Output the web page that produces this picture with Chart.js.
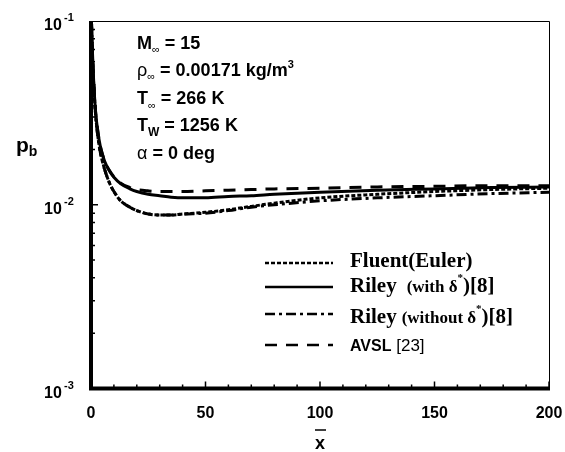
<!DOCTYPE html>
<html>
<head>
<meta charset="utf-8">
<script src="https://cdn.jsdelivr.net/npm/chart.js@4.4.0/dist/chart.umd.min.js"></script>
<style>
    body { margin: 0; background: #fff; }
    #wrap { width: 565px; height: 452px; }
</style>
</head>
<body>
<div id="wrap"><canvas id="pbCanvas" width="565" height="452"></canvas></div>
<script>
// base pressure along the plate, x-bar from 0 to 200
var xs = [0.2, 0.5, 1, 2, 3, 4, 5, 6, 8, 10, 13, 17, 20, 25, 30, 35, 40, 50, 60, 70, 80, 100, 125, 150, 175, 200];

var pFluent = [0.1, 0.072, 0.05, 0.031, 0.0235, 0.0195, 0.0172, 0.0155, 0.0132, 0.0118, 0.0105, 0.0097, 0.0093, 0.0089, 0.0088, 0.0088, 0.0089, 0.0091, 0.0094, 0.0098, 0.0102, 0.0109, 0.0114, 0.0118, 0.0121, 0.0123];
var pRileyWith = [0.1, 0.075, 0.052, 0.032, 0.025, 0.021, 0.0188, 0.0172, 0.0153, 0.0141, 0.0130, 0.0122, 0.0118, 0.0114, 0.0112, 0.0110, 0.0109, 0.0109, 0.0111, 0.0112, 0.0114, 0.0117, 0.0120, 0.0122, 0.0124, 0.0125];
var pRileyWithout = [0.1, 0.072, 0.05, 0.031, 0.0235, 0.0195, 0.0172, 0.0155, 0.0132, 0.0118, 0.0105, 0.0097, 0.0093, 0.0089, 0.0088, 0.0088, 0.0089, 0.0090, 0.0093, 0.0097, 0.0100, 0.0105, 0.0109, 0.0112, 0.0115, 0.0117];
var pAvsl = [0.1, 0.075, 0.052, 0.032, 0.025, 0.021, 0.0188, 0.0172, 0.0154, 0.0142, 0.0131, 0.0124, 0.0121, 0.0119, 0.0118, 0.0118, 0.0118, 0.0119, 0.0120, 0.0121, 0.0122, 0.0123, 0.0125, 0.0126, 0.0127, 0.0127];

var xTicks = [0, 50, 100, 150, 200];
var yTicks = [0.1, 0.01, 0.001];
var yTickExp = ["-1", "-2", "-3"];

var dashFluent = [4, 2];
var dashSolid = [];
var dashDotDash = [10, 4, 3, 4];
var dashAvsl = [12, 9];

function pts(ys) {
    var out = [];
    for (var i = 0; i < xs.length; i++) {
        out.push({ x: xs[i], y: ys[i] });
    }
    return out;
}

function series(label, ys, dash) {
    return {
        label: label,
        data: pts(ys),
        borderColor: "#000",
        borderWidth: 3,
        borderDash: dash,
        pointRadius: 0,
        fill: false,
        cubicInterpolationMode: "monotone"
    };
}

// draw a row of text pieces (sub/superscripts) left to right
function runs(ctx, x, y, parts) {
    for (var i = 0; i < parts.length; i++) {
        var p = parts[i];
        ctx.font = p.f;
        if (p.gap) x += p.gap;
        ctx.fillText(p.t, x, y + (p.dy || 0));
        x += ctx.measureText(p.t).width;
    }
}

var SANS = "'Liberation Sans', Arial, sans-serif";
var SERIF = "'Liberation Serif', 'Times New Roman', serif";

var framePlugin = {
    id: "frame",
    beforeDraw: function (chart) {
        var ctx = chart.ctx;
        ctx.save();
        ctx.fillStyle = "#fff";
        ctx.fillRect(0, 0, chart.width, chart.height);
        ctx.restore();
    },
    afterDatasetsDraw: function (chart) {
        var ctx = chart.ctx;
        var a = chart.chartArea;
        var xs_ = chart.scales.x;
        var ys_ = chart.scales.y;
        ctx.save();
        ctx.strokeStyle = "#000";
        ctx.fillStyle = "#000";

        // thin top and right border
        ctx.lineWidth = 1;
        ctx.beginPath();
        ctx.moveTo(a.left, a.top + 0.5);
        ctx.lineTo(a.right + 0.5, a.top + 0.5);
        ctx.lineTo(a.right + 0.5, a.bottom);
        ctx.stroke();

        // heavy left and bottom axes
        ctx.lineWidth = 4;
        ctx.beginPath();
        ctx.moveTo(a.left, a.top);
        ctx.lineTo(a.left, a.bottom);
        ctx.lineTo(a.right + 1, a.bottom);
        ctx.stroke();

        // inward ticks
        ctx.lineWidth = 1.5;
        ctx.beginPath();
        for (var v = 0; v <= 200; v += 10) {
            var px = xs_.getPixelForValue(v);
            var len = (v % 50 === 0) ? 7 : 4;
            ctx.moveTo(px, a.bottom);
            ctx.lineTo(px, a.bottom - len);
        }
        for (var e = -3; e <= -2; e++) {
            for (var m = 1; m <= 9; m++) {
                if (m === 1 && e === -3) continue;
                var py = ys_.getPixelForValue(m * Math.pow(10, e));
                var l2 = (m === 1) ? 7 : 4;
                ctx.moveTo(a.left, py);
                ctx.lineTo(a.left + l2, py);
            }
        }
        ctx.stroke();

        // x tick labels
        ctx.font = "bold 16px " + SANS;
        ctx.textAlign = "center";
        ctx.textBaseline = "middle";
        for (var i = 0; i < xTicks.length; i++) {
            ctx.fillText(String(xTicks[i]), xs_.getPixelForValue(xTicks[i]), a.bottom + 25);
        }

        // y tick labels 10^n
        ctx.textAlign = "left";
        for (var j = 0; j < yTicks.length; j++) {
            var ty = ys_.getPixelForValue(yTicks[j]);
            ctx.font = "bold 16px " + SANS;
            ctx.fillText("10", 44, ty + 5);
            ctx.font = "bold 11px " + SANS;
            ctx.fillText(yTickExp[j], 64, ty - 3);
        }

        // axis titles
        ctx.textBaseline = "alphabetic";
        runs(ctx, 16, 152, [
            { t: "p", f: "bold 21px " + SANS },
            { t: "b", f: "bold 14px " + SANS, dy: 4 }
        ]);
        ctx.font = "bold 18px " + SANS;
        ctx.fillText("x", 315, 449);
        ctx.lineWidth = 1.5;
        ctx.beginPath();
        ctx.moveTo(315, 430);
        ctx.lineTo(326, 430);
        ctx.stroke();

        // flow conditions
        var bx = 137;
        var B = "bold 18px " + SANS;
        var SUB = "11px " + SANS;
        runs(ctx, bx, 49, [{ t: "M", f: B }, { t: "\u221e", f: SUB, dy: 4 }, { t: " = 15", f: B }]);
        runs(ctx, bx, 76, [{ t: "\u03c1", f: "18px " + SANS }, { t: "\u221e", f: SUB, dy: 4 }, { t: " = 0.00171 kg/m", f: B }, { t: "3", f: "bold 11px " + SANS, dy: -8 }]);
        runs(ctx, bx, 104, [{ t: "T", f: B }, { t: "\u221e", f: SUB, dy: 5 }, { t: " = 266 K", f: B }]);
        runs(ctx, bx, 131, [{ t: "T", f: B }, { t: "W", f: "bold 12px " + SANS, dy: 5 }, { t: " = 1256 K", f: B }]);
        runs(ctx, bx, 159, [{ t: "\u03b1", f: "18px " + SANS }, { t: " = 0 deg", f: B }]);

        // legend
        var rows = [
            { y: 263, dash: dashFluent, ty: 267 },
            { y: 287, dash: dashSolid, ty: 292 },
            { y: 314, dash: dashDotDash, ty: 323 },
            { y: 345, dash: dashAvsl, ty: 351 }
        ];
        ctx.lineWidth = 2.5;
        for (var k = 0; k < rows.length; k++) {
            ctx.setLineDash(rows[k].dash);
            ctx.beginPath();
            ctx.moveTo(265, rows[k].y);
            ctx.lineTo(333, rows[k].y);
            ctx.stroke();
        }
        ctx.setLineDash([]);
        var LB = "bold 21px " + SERIF;
        var LM = "bold 17px " + SERIF;
        runs(ctx, 350, rows[0].ty, [{ t: "Fluent(Euler)", f: LB }]);
        runs(ctx, 350, rows[1].ty, [
            { t: "Riley", f: LB },
            { t: "(with \u03b4", f: LM, gap: 10 },
            { t: "*", f: "bold 11px " + SERIF, dy: -11 },
            { t: ")[8]", f: LB }
        ]);
        runs(ctx, 350, rows[2].ty, [
            { t: "Riley", f: LB },
            { t: "(without \u03b4", f: LM, gap: 5 },
            { t: "*", f: "bold 11px " + SERIF, dy: -11 },
            { t: ")[8]", f: LB }
        ]);
        runs(ctx, 350, rows[3].ty, [
            { t: "AVSL", f: "bold 16px " + SANS },
            { t: " [23]", f: "17px " + SANS }
        ]);

        ctx.restore();
    }
};

var ctx = document.getElementById("pbCanvas");
var pbChart = new Chart(ctx, {
    type: "line",
    data: {
        datasets: [
            series("Fluent(Euler)", pFluent, dashFluent),
            series("Riley (with \u03b4*)[8]", pRileyWith, dashSolid),
            series("Riley (without \u03b4*)[8]", pRileyWithout, dashDotDash),
            series("AVSL [23]", pAvsl, dashAvsl)
        ]
    },
    options: {
        responsive: false,
        animation: false,
        devicePixelRatio: 1,
        layout: {
            padding: { left: 91, top: 21, right: 16, bottom: 63.5 }
        },
        plugins: {
            legend: { display: false },
            tooltip: { enabled: false }
        },
        scales: {
            x: { type: "linear", min: 0, max: 200, display: false },
            y: { type: "logarithmic", min: 0.001, max: 0.1, display: false }
        }
    },
    plugins: [framePlugin]
});
</script>
</body>
</html>
